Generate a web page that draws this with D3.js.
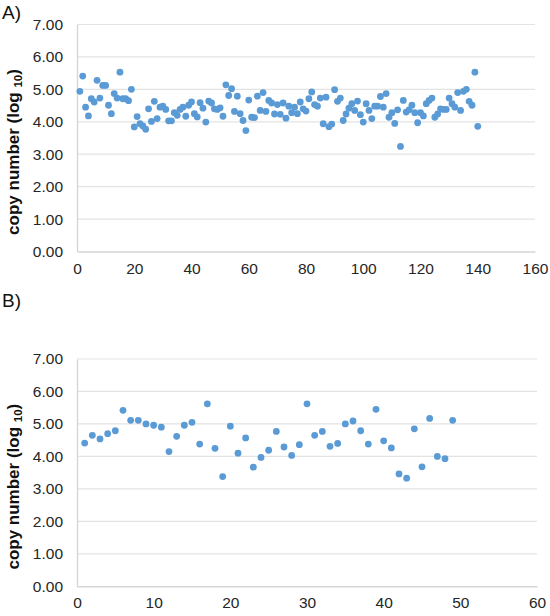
<!DOCTYPE html>
<html><head><meta charset="utf-8">
<script src="https://cdn.jsdelivr.net/npm/d3@7"></script>
<style>body{margin:0;background:#fff}svg{display:block}</style>
</head><body>
<svg id="c" width="550" height="616"></svg>
<script>
// Panel A: copy number (log10) for samples 1..140
const valuesA = [
4.94,5.41,4.45,4.18,4.71,4.61,5.28,4.73,5.12,5.12,4.51,4.25,4.87,4.73,5.53,4.71,4.71,4.65,5.00,3.84,
4.16,3.94,3.87,3.77,4.40,4.01,4.63,4.10,4.45,4.48,4.38,4.03,4.03,4.28,
4.20,4.38,4.45,4.17,4.51,4.61,4.25,4.15,4.59,4.42,3.99,4.64,4.58,4.40,4.38,4.43,4.17,5.14,4.81,5.02,
4.32,4.79,4.25,4.04,3.73,4.67,4.14,4.13,4.79,4.35,4.90,4.32,4.66,
4.58,4.24,4.53,4.23,4.58,4.11,4.48,4.28,4.45,4.25,4.61,4.40,4.33,4.71,4.92,4.53,4.48,4.73,3.94,4.76,
3.85,3.93,4.99,4.63,4.73,4.04,4.24,4.42,4.56,4.35,4.64,4.22,3.99,4.56,4.35,
4.10,4.48,4.48,4.78,4.45,4.87,4.14,4.28,3.95,4.37,3.24,4.66,4.30,4.37,4.51,4.28,3.97,4.28,4.18,4.56,
4.66,4.73,4.14,4.24,4.40,4.38,4.38,4.73,4.56,4.45,4.90,4.35,4.94,5.00,4.63,4.51,5.53,3.86
];
// Panel B: copy number (log10) for samples 1..49
const valuesB = [
4.41,4.65,4.54,4.70,4.79,5.42,5.11,5.11,5.00,4.96,4.90,4.15,4.62,4.96,5.05,4.38,5.62,4.25,3.38,4.93,
4.10,4.57,3.67,3.97,4.19,4.77,4.29,4.03,4.36,5.62,4.65,4.77,4.31,4.40,5.00,5.09,4.79,4.38,5.45,4.48,
4.26,3.46,3.33,4.85,3.68,5.17,4.00,3.93,5.11
];
const yTicks = [0,1,2,3,4,5,6,7];
const xTicksA = [0,20,40,60,80,100,120,140,160];
const xTicksB = [0,10,20,30,40,50,60];
const panelLabels = ["A)", "B)"];
const yTitle = "copy number (log ";
const ySub = "10";

const svg = d3.select("#c");
const font = "'Liberation Sans', Arial, Helvetica, sans-serif";
const dotColor = "#5b9bd5";
const gridColor = "#e3e3e3";
const textColor = "#262626";

function panel(cfg) {
  const g = svg.append("g");
  const x = d3.scaleLinear().domain([0, cfg.xMax]).range([cfg.left, cfg.right]);
  const y = d3.scaleLinear().domain([0, 7]).range([cfg.bottom, cfg.top]);

  g.append("g").selectAll("line").data(yTicks.filter(d => d > 0)).join("line")
    .attr("x1", cfg.left).attr("x2", cfg.right)
    .attr("y1", d => y(d)).attr("y2", d => y(d))
    .attr("stroke", gridColor).attr("stroke-width", 1.2);

  const ya = d3.axisLeft(y).tickValues(yTicks).tickFormat(d3.format(".2f")).tickSize(0).tickPadding(14);
  const yg = g.append("g").attr("transform", `translate(${cfg.left},0)`).call(ya);
  yg.select(".domain").attr("stroke", "#d6d6d6").attr("stroke-width", 1.4);
  yg.selectAll("text").attr("font-family", font).attr("font-size", 15.5).attr("fill", textColor);

  const xa = d3.axisBottom(x).tickValues(cfg.xTicks).tickFormat(d3.format("d")).tickSize(0).tickPadding(11);
  const xg = g.append("g").attr("transform", `translate(0,${cfg.bottom})`).call(xa);
  xg.select(".domain").attr("stroke", "#d6d6d6").attr("stroke-width", 1.4);
  xg.selectAll("text").attr("font-family", font).attr("font-size", 15.5).attr("fill", textColor);

  g.append("g").selectAll("circle").data(cfg.values).join("circle")
    .attr("cx", (d, i) => x(i + 1)).attr("cy", d => y(d)).attr("r", 3.4)
    .attr("fill", dotColor);

  const cy = (cfg.top + cfg.bottom) / 2 + 14;
  const t = g.append("text")
    .attr("transform", `translate(19,${cy}) rotate(-90)`)
    .attr("text-anchor", "middle")
    .attr("font-family", font).attr("font-size", 17).attr("font-weight", "bold").attr("fill", "#111");
  t.append("tspan").text(yTitle);
  t.append("tspan").attr("font-size", 11.5).attr("dy", 3).text(ySub);
  t.append("tspan").attr("dy", -3).text(")");

  g.append("text").attr("x", 2).attr("y", cfg.labelY)
    .attr("font-family", font).attr("font-size", 19).attr("fill", "#111").text(cfg.label);
}

panel({values: valuesA, xMax: 160, xTicks: xTicksA, left: 77, right: 535, top: 24.5, bottom: 251.5, label: panelLabels[0], labelY: 19});
panel({values: valuesB, xMax: 60, xTicks: xTicksB, left: 77, right: 537, top: 359, bottom: 586.3, label: panelLabels[1], labelY: 307});
</script>
</body></html>
